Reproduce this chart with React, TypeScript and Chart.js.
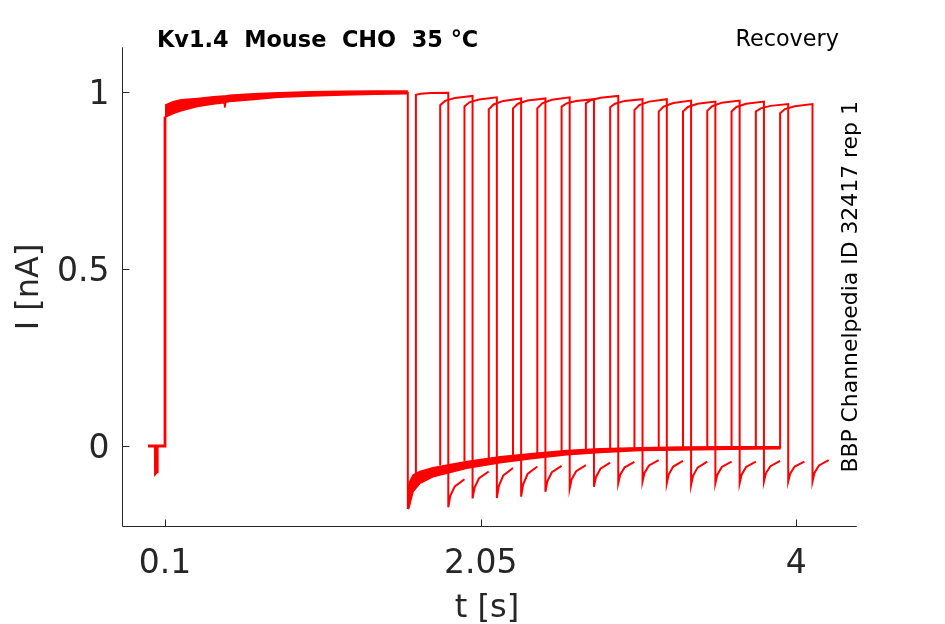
import React, { useEffect, useRef } from "react";
import { Chart, registerables } from "chart.js";

Chart.register(...registerables);

// ---- axis ticks ----
const X_TICKS = [0.1, 2.05, 4];
const X_TICK_LABELS = ["0.1", "2.05", "4"];
const Y_TICKS = [0, 0.5, 1];
const Y_TICK_LABELS = ["0", "0.5", "1"];

// ---- pre-pulse holding segment ----
const PRE_T = [-0.005, 0.04, 0.041, 0.051, 0.052, 0.1, 0.1];
const PRE_I = [0, 0, -0.077, -0.072, 0, 0, 0.93];

// ---- conditioning pulse (band of overlapping sweeps) ----
const COND_T = [0.1, 0.15, 0.2, 0.3, 0.4, 0.465, 0.47, 0.475, 0.5, 0.65, 0.8, 1.0, 1.2, 1.4, 1.6];
const COND_HI = [0.962, 0.972, 0.977, 0.981, 0.986, 0.988, 0.988, 0.988, 0.99, 0.994, 0.997, 1.0, 1.001, 1.002, 1.002];
const COND_LO = [0.928, 0.938, 0.946, 0.958, 0.965, 0.969, 0.955, 0.97, 0.972, 0.978, 0.984, 0.988, 0.991, 0.993, 0.994];

// ---- end of conditioning pulse ----
const DROP_T = [1.6, 1.6];
const DROP_I = [1.0, -0.178];

// ---- recovery holding band ----
const REC_T = [1.6, 1.607, 1.632, 1.675, 1.755, 1.965, 2.169, 2.373, 2.583, 2.787, 3.034, 3.3, 3.6, 3.903];
const REC_HI = [-0.175, -0.105, -0.082, -0.072, -0.061, -0.044, -0.03, -0.021, -0.013, -0.008, -0.005, -0.003, -0.002, -0.002];
const REC_LO = [-0.178, -0.175, -0.129, -0.105, -0.087, -0.063, -0.047, -0.035, -0.025, -0.018, -0.013, -0.011, -0.009, -0.008];

// ---- test pulses (one per sweep) ----
const TEST_START = [1.65, 1.8, 1.95, 2.1, 2.25, 2.4, 2.55, 2.7, 2.85, 3.0, 3.15, 3.3, 3.45, 3.6, 3.75, 3.9];
const TEST_BASE = [-0.085, -0.055, -0.042, -0.034, -0.028, -0.023, -0.019, -0.016, -0.013, -0.011, -0.01, -0.009, -0.008, -0.007, -0.006, -0.006];
const TOP_DT = [0, 0.03, 0.09, 0.2];
const TOP_I = [
  [0.991, 0.994, 0.996, 0.997],
  [0.962, 0.974, 0.982, 0.988],
  [0.958, 0.97, 0.978, 0.984],
  [0.95, 0.964, 0.974, 0.981],
  [0.953, 0.966, 0.975, 0.981],
  [0.953, 0.967, 0.977, 0.984],
  [0.958, 0.967, 0.974, 0.979],
  [0.967, 0.976, 0.983, 0.988],
  [0.956, 0.966, 0.974, 0.979],
  [0.948, 0.962, 0.972, 0.979],
  [0.944, 0.958, 0.968, 0.975],
  [0.944, 0.957, 0.966, 0.972],
  [0.946, 0.959, 0.969, 0.975],
  [0.944, 0.957, 0.966, 0.972],
  [0.944, 0.953, 0.96, 0.965],
  [0.939, 0.951, 0.959, 0.965],
];
const TAIL_DT = [0, 0.012, 0.04, 0.1];
const TAIL_I = [
  [-0.173, -0.141, -0.114, -0.094],
  [-0.148, -0.118, -0.091, -0.072],
  [-0.147, -0.113, -0.083, -0.062],
  [-0.143, -0.109, -0.079, -0.058],
  [-0.129, -0.1, -0.074, -0.056],
  [-0.12, -0.094, -0.071, -0.054],
  [-0.115, -0.088, -0.064, -0.047],
  [-0.105, -0.081, -0.06, -0.045],
  [-0.1, -0.076, -0.055, -0.04],
  [-0.105, -0.08, -0.058, -0.042],
  [-0.11, -0.084, -0.061, -0.044],
  [-0.105, -0.081, -0.059, -0.044],
  [-0.105, -0.081, -0.059, -0.044],
  [-0.1, -0.077, -0.057, -0.042],
  [-0.1, -0.078, -0.058, -0.044],
  [-0.1, -0.076, -0.055, -0.04],
];
const TEST_DUR = 0.2;

const RED = "#ff0000";
const AXIS = "#262626";

const zip = (t: number[], v: number[]) => t.map((x, i) => ({ x, y: v[i] }));

const decor = {
  id: "decor",
  afterDraw(chart: any) {
    const { ctx, chartArea: a, scales } = chart;
    const xs = scales.x;
    const ys = scales.y;
    ctx.save();
    ctx.strokeStyle = AXIS;
    ctx.lineWidth = 1;
    ctx.beginPath();
    ctx.moveTo(a.left, a.top);
    ctx.lineTo(a.left, a.bottom);
    ctx.lineTo(a.right, a.bottom);
    ctx.stroke();
    ctx.beginPath();
    X_TICKS.forEach((v) => {
      const px = Math.round(xs.getPixelForValue(v)) + 0.5;
      ctx.moveTo(px, a.bottom);
      ctx.lineTo(px, a.bottom - 7);
    });
    Y_TICKS.forEach((v) => {
      const py = Math.round(ys.getPixelForValue(v)) + 0.5;
      ctx.moveTo(a.left, py);
      ctx.lineTo(a.left + 7, py);
    });
    ctx.stroke();

    ctx.fillStyle = AXIS;
    ctx.font = '33px "DejaVu Sans"';
    ctx.textBaseline = "alphabetic";
    ctx.textAlign = "center";
    X_TICKS.forEach((v, i) => {
      ctx.fillText(X_TICK_LABELS[i], xs.getPixelForValue(v), a.bottom + 46.5);
    });
    ctx.textAlign = "right";
    Y_TICKS.forEach((v, i) => {
      ctx.fillText(Y_TICK_LABELS[i], a.left - 13, ys.getPixelForValue(v) + 12.3);
    });

    ctx.font = '32px "DejaVu Sans"';
    ctx.textAlign = "center";
    ctx.fillText("t [s]", 487, 616.5);
    ctx.save();
    ctx.translate(38, (a.top + a.bottom) / 2);
    ctx.rotate(-Math.PI / 2);
    ctx.fillText("I [nA]", 0, 0);
    ctx.restore();

    ctx.fillStyle = "#000000";
    ctx.font = 'bold 22.4px "DejaVu Sans"';
    ctx.textAlign = "left";
    ctx.fillText("Kv1.4  Mouse  CHO  35 °C", 157, 47);
    ctx.font = '22.3px "DejaVu Sans"';
    ctx.fillText("Recovery", 735.5, 46);
    ctx.save();
    ctx.translate(856.5, (a.top + a.bottom) / 2);
    ctx.rotate(-Math.PI / 2);
    ctx.font = '21.9px "DejaVu Sans"';
    ctx.textAlign = "center";
    ctx.fillText("BBP Channelpedia ID 32417 rep 1", 0, 0);
    ctx.restore();
    ctx.restore();
  },
};

export default function App() {
  const ref = useRef<HTMLCanvasElement>(null);
  useEffect(() => {
    const base = { borderColor: RED, backgroundColor: RED, pointRadius: 0, tension: 0, fill: false };
    const datasets: any[] = [
      { ...base, data: zip(PRE_T, PRE_I), borderWidth: 2.8 },
      { ...base, data: zip(COND_T, COND_HI), borderWidth: 1.5 },
      { ...base, data: zip(COND_T, COND_LO), borderWidth: 1.5, fill: "-1" },
      { ...base, data: zip(DROP_T, DROP_I), borderWidth: 2 },
      { ...base, data: zip(REC_T, REC_HI), borderWidth: 1.5 },
      { ...base, data: zip(REC_T, REC_LO), borderWidth: 1.5, fill: "-1" },
    ];
    TEST_START.forEach((t0, k) => {
      const pts: { x: number; y: number }[] = [{ x: t0, y: TEST_BASE[k] }];
      TOP_DT.forEach((dt, j) => pts.push({ x: t0 + dt, y: TOP_I[k][j] }));
      TAIL_DT.forEach((dt, j) => pts.push({ x: t0 + TEST_DUR + dt, y: TAIL_I[k][j] }));
      datasets.push({ ...base, data: pts, borderWidth: 2 });
    });

    const chart = new Chart(ref.current!, {
      type: "line",
      data: { datasets },
      options: {
        animation: false,
        responsive: true,
        maintainAspectRatio: false,
        parsing: false,
        normalized: true,
        layout: { padding: { left: 122.5, top: 47.3, right: 88.3, bottom: 97.5 } },
        plugins: { legend: { display: false }, tooltip: { enabled: false }, title: { display: false } },
        elements: { line: { borderJoinStyle: "miter", borderCapStyle: "butt" } },
        scales: {
          x: { type: "linear", display: false, min: -0.1626, max: 4.3731 },
          y: { type: "linear", display: false, min: -0.2272, max: 1.1253 },
        },
      },
      plugins: [decor],
    });
    return () => chart.destroy();
  }, []);
  return (
    <div style={{ position: "fixed", left: 0, top: 0, width: 945, height: 624, background: "#fff" }}>
      <canvas ref={ref} />
    </div>
  );
}
